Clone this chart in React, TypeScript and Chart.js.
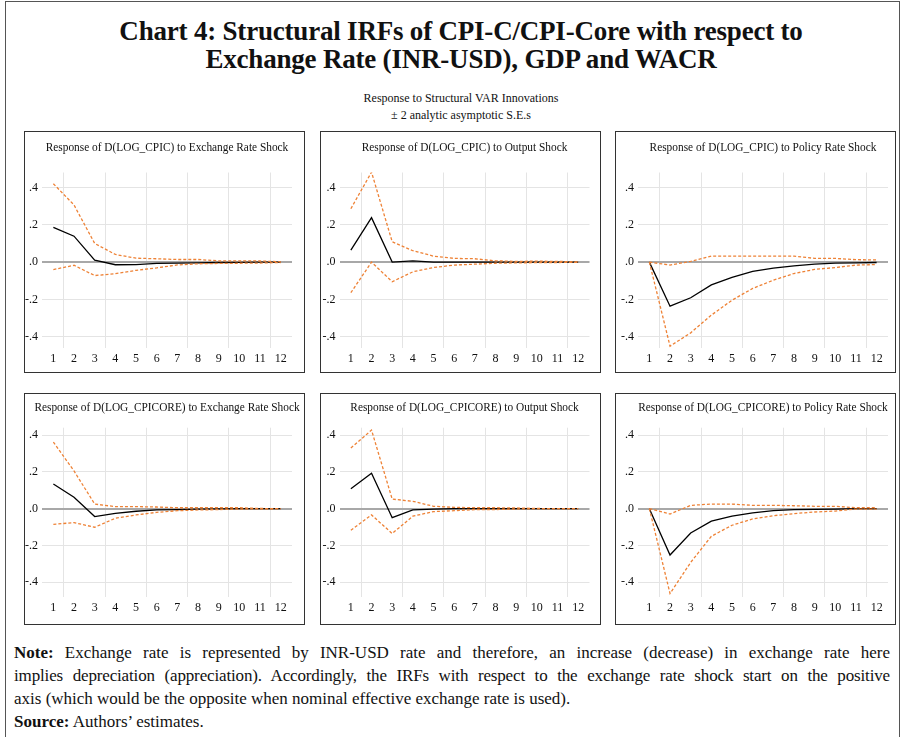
import React, { useEffect, useRef } from 'react';
import { Chart, registerables } from 'chart.js';
Chart.register(...registerables);

const periods = [1, 2, 3, 4, 5, 6, 7, 8, 9, 10, 11, 12];
const gridPeriods = [1.5, 3.5, 5.5, 7.5, 9.5, 11.5];
const yTickValues = [-0.4, -0.2, 0, 0.2, 0.4];

const panelTitles = [
  'Response of D(LOG_CPIC) to Exchange Rate Shock',
  'Response of D(LOG_CPIC) to Output Shock',
  'Response of D(LOG_CPIC) to Policy Rate Shock',
  'Response of D(LOG_CPICORE) to Exchange Rate Shock',
  'Response of D(LOG_CPICORE) to Output Shock',
  'Response of D(LOG_CPICORE) to Policy Rate Shock',
];

// CPI-C, exchange rate shock
const cpicExchResp = [0.186, 0.139, 0.011, -0.014, -0.013, -0.007, -0.005, -0.004, -0.002, -0.001, 0, 0];
const cpicExchUpper = [0.42, 0.306, 0.1, 0.041, 0.021, 0.018, 0.014, 0.014, 0.007, 0.007, 0.006, 0.002];
const cpicExchLower = [-0.04, -0.017, -0.072, -0.062, -0.044, -0.031, -0.015, -0.009, -0.007, -0.006, -0.005, -0.002];
// CPI-C, output shock
const cpicOutResp = [0.064, 0.238, 0.0, 0.007, 0.0, 0.0, 0.0, 0.0, 0.0, 0.0, 0.0, 0.0];
const cpicOutUpper = [0.286, 0.482, 0.109, 0.061, 0.032, 0.02, 0.018, 0.007, 0.004, 0.005, 0.004, 0.001];
const cpicOutLower = [-0.164, 0.0, -0.105, -0.052, -0.029, -0.016, -0.011, -0.006, -0.004, -0.003, -0.002, -0.001];
// CPI-C, policy rate shock
const cpicPolResp = [0, -0.236, -0.191, -0.122, -0.082, -0.05, -0.032, -0.02, -0.011, -0.005, -0.004, -0.002];
const cpicPolUpper = [0, -0.016, 0.004, 0.032, 0.032, 0.032, 0.032, 0.032, 0.02, 0.02, 0.013, 0.012];
const cpicPolLower = [0, -0.45, -0.379, -0.284, -0.204, -0.141, -0.097, -0.061, -0.039, -0.029, -0.016, -0.013];
// CPI-Core, exchange rate shock
const coreExchResp = [0.134, 0.062, -0.043, -0.025, -0.014, -0.007, -0.005, -0.002, -0.001, 0, 0, 0];
const coreExchUpper = [0.362, 0.205, 0.025, 0.011, 0.011, 0.009, 0.005, 0.005, 0.005, 0.005, 0.001, 0];
const coreExchLower = [-0.085, -0.076, -0.101, -0.052, -0.034, -0.02, -0.011, -0.007, -0.005, -0.002, -0.001, 0];
// CPI-Core, output shock
const coreOutResp = [0.108, 0.193, -0.049, -0.007, -0.002, 0, 0, 0, 0, 0, 0, 0];
const coreOutUpper = [0.33, 0.427, 0.052, 0.04, 0.013, 0.007, 0.005, 0.005, 0.004, 0.001, 0, 0];
const coreOutLower = [-0.117, -0.034, -0.135, -0.041, -0.016, -0.011, -0.005, -0.005, -0.002, 0, 0, 0];
// CPI-Core, policy rate shock
const corePolResp = [0, -0.252, -0.132, -0.068, -0.041, -0.023, -0.011, -0.005, -0.004, -0.002, 0, 0];
const corePolUpper = [0, -0.029, 0.018, 0.025, 0.025, 0.018, 0.018, 0.016, 0.013, 0.013, 0.005, 0.005];
const corePolLower = [0, -0.461, -0.292, -0.15, -0.09, -0.056, -0.038, -0.027, -0.018, -0.013, -0.002, -0.002];

const FONT = '"Liberation Serif", "Times New Roman", serif';
const ORANGE = '#EE8236';

type PanelProps = {
  title: string;
  resp: number[];
  upper: number[];
  lower: number[];
  yMin: number;
  yMax: number;
  left: number;
  top: number;
  width: number;
  height: number;
  yAxisWidth: number;
  xAxisHeight: number;
  plotTop: number;
  titleY: number;
};

function Panel(p: PanelProps) {
  const ref = useRef<HTMLCanvasElement | null>(null);
  useEffect(() => {
    if (!ref.current) return;
    const toPts = (arr: number[]) => periods.map((x, i) => ({ x, y: arr[i] }));
    const plotWidth = 250;
    const panelTitle = {
      id: 'panelTitle',
      afterDraw(chart: any) {
        const ctx = chart.ctx;
        const { left, right } = chart.chartArea;
        ctx.save();
        ctx.font = `12px ${FONT}`;
        ctx.fillStyle = '#111';
        ctx.textAlign = 'center';
        ctx.textBaseline = 'middle';
        ctx.translate((left + right) / 2, p.titleY);
        ctx.scale(0.945, 1);
        ctx.fillText(p.title, 0, 0);
        ctx.restore();
      },
    };
    const chart = new Chart(ref.current, {
      type: 'line',
      data: {
        datasets: [
          { data: toPts(p.upper), borderColor: ORANGE, borderWidth: 1.3, borderDash: [3, 2], pointRadius: 0, tension: 0, fill: false },
          { data: toPts(p.lower), borderColor: ORANGE, borderWidth: 1.3, borderDash: [3, 2], pointRadius: 0, tension: 0, fill: false },
          { data: toPts(p.resp), borderColor: '#000', borderWidth: 1.3, pointRadius: 0, tension: 0, fill: false },
        ],
      },
      options: {
        animation: false,
        responsive: false,
        maintainAspectRatio: false,
        layout: { padding: { left: 0, right: p.width - p.yAxisWidth - plotWidth, top: p.plotTop, bottom: 0 } },
        plugins: {
          legend: { display: false },
          tooltip: { enabled: false },
          title: { display: false },
        },
        scales: {
          x: {
            type: 'linear',
            min: 0.45,
            max: 12.55,
            border: { display: false },
            afterBuildTicks: (s: any) => {
              const vals = [...periods, ...gridPeriods].sort((a, b) => a - b);
              s.ticks = vals.map((v) => ({ value: v }));
            },
            afterFit: (s: any) => { s.height = p.xAxisHeight; },
            ticks: {
              autoSkip: false,
              maxRotation: 0,
              padding: 4,
              color: '#111',
              font: { family: FONT, size: 12 },
              callback: (v: any) => (Number.isInteger(v) ? String(v) : ''),
            },
            grid: {
              drawTicks: false,
              color: (ctx: any) => {
                const v = ctx.tick?.value;
                return v !== undefined && !Number.isInteger(v) ? '#e4e4e4' : 'rgba(0,0,0,0)';
              },
              lineWidth: 1,
            },
          },
          y: {
            type: 'linear',
            min: p.yMin,
            max: p.yMax,
            border: { display: false },
            afterBuildTicks: (s: any) => { s.ticks = yTickValues.map((v) => ({ value: v })); },
            afterFit: (s: any) => { s.width = p.yAxisWidth; },
            ticks: {
              padding: 4,
              color: '#111',
              font: { family: FONT, size: 12 },
              callback: (v: any) => {
                const n = Number(v);
                const s = Math.abs(n).toFixed(1).replace(/^0/, '');
                return (n < -1e-9 ? '-' : '') + s;
              },
            },
            grid: {
              drawTicks: false,
              color: (ctx: any) => (Math.abs(ctx.tick?.value ?? 1) < 1e-9 ? '#a8a8a8' : '#e4e4e4'),
              lineWidth: (ctx: any) => (Math.abs(ctx.tick?.value ?? 1) < 1e-9 ? 2 : 1),
            },
          },
        },
      } as any,
      plugins: [panelTitle],
    });
    return () => chart.destroy();
  }, []);
  return (
    <div
      style={{
        position: 'absolute',
        left: p.left - 1,
        top: p.top - 1,
        width: p.width,
        height: p.height,
        border: '1px solid #333',
        background: '#fff',
      }}
    >
      <canvas ref={ref} width={p.width} height={p.height} style={{ display: 'block', width: p.width, height: p.height }} />
    </div>
  );
}

const colLefts = [25, 321, 616];
const colAxisWidths = [17, 18.5, 22];

const noteLines = [
  'Exchange rate is represented by INR-USD rate and therefore, an increase (decrease) in exchange rate here',
  'implies depreciation (appreciation). Accordingly, the IRFs with respect to the exchange rate shock start on the positive',
  'axis (which would be the opposite when nominal effective exchange rate is used).',
];

export default function App() {
  const rows = [
    { top: 132, height: 240, yMin: -0.46, yMax: 0.48, xAxisHeight: 24, plotTop: 40.5, titleY: 16 },
    { top: 394, height: 230, yMin: -0.48, yMax: 0.44, xAxisHeight: 27, plotTop: 33.7, titleY: 13.5 },
  ];
  const series = [
    [cpicExchResp, cpicExchUpper, cpicExchLower],
    [cpicOutResp, cpicOutUpper, cpicOutLower],
    [cpicPolResp, cpicPolUpper, cpicPolLower],
    [coreExchResp, coreExchUpper, coreExchLower],
    [coreOutResp, coreOutUpper, coreOutLower],
    [corePolResp, corePolUpper, corePolLower],
  ];
  const panels: any[] = [];
  for (let r = 0; r < 2; r++) {
    for (let c = 0; c < 3; c++) {
      const i = r * 3 + c;
      const row = rows[r];
      panels.push(
        <Panel
          key={i}
          title={panelTitles[i]}
          resp={series[i][0]}
          upper={series[i][1]}
          lower={series[i][2]}
          yMin={row.yMin}
          yMax={row.yMax}
          left={colLefts[c]}
          top={row.top}
          width={279}
          height={row.height}
          yAxisWidth={colAxisWidths[c]}
          xAxisHeight={row.xAxisHeight}
          plotTop={row.plotTop}
          titleY={row.titleY}
        />
      );
    }
  }
  return (
    <div style={{ position: 'absolute', left: 0, top: 0, width: 903, height: 737, overflow: 'hidden', background: '#fff', fontFamily: FONT, color: '#111' }}>
      <div style={{ position: 'absolute', left: 5, top: 1, width: 893, height: 800, border: '1.5px solid #555', borderBottom: 'none' }} />
      <div style={{ position: 'absolute', left: 0, top: 17, width: 922, textAlign: 'center', fontWeight: 'bold', fontSize: 27, lineHeight: '28px', letterSpacing: '-0.2px' }}>
        Chart 4: Structural IRFs of CPI-C/CPI-Core with respect to
        <br />
        Exchange Rate (INR-USD), GDP and WACR
      </div>
      <div style={{ position: 'absolute', left: 0, top: 90, width: 922, textAlign: 'center', fontSize: 12, lineHeight: '17px' }}>
        Response to Structural VAR Innovations
        <br />± 2 analytic asymptotic S.E.s
      </div>
      {panels}
      <div style={{ position: 'absolute', left: 14, top: 641, width: 876, fontSize: 17, lineHeight: '23px' }}>
        <div style={{ textAlign: 'justify', textAlignLast: 'justify' as any }}>
          <b>Note:</b> {noteLines[0]}
        </div>
        <div style={{ textAlign: 'justify', textAlignLast: 'justify' as any, letterSpacing: '-0.15px' }}>{noteLines[1]}</div>
        <div>{noteLines[2]}</div>
        <div>
          <b>Source:</b> Authors’ estimates.
        </div>
      </div>
    </div>
  );
}
